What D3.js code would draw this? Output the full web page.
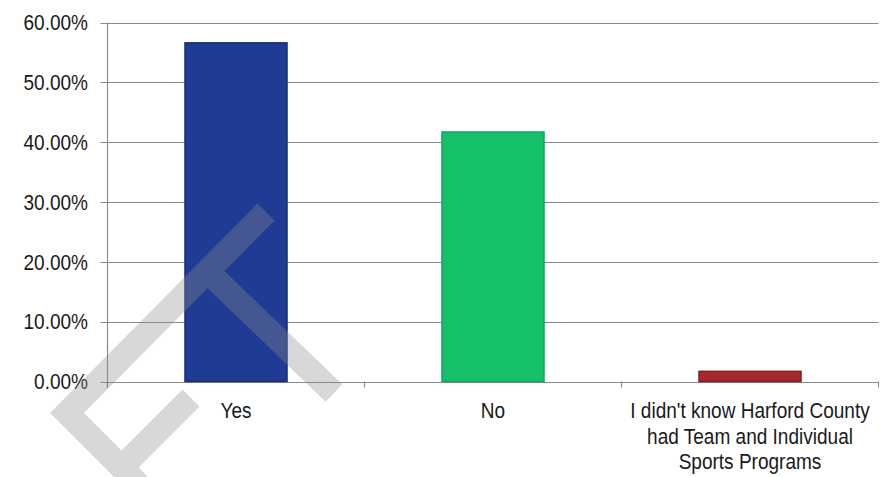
<!DOCTYPE html>
<html>
<head>
<meta charset="utf-8">
<script src="https://cdn.jsdelivr.net/npm/d3@7"></script>
<style>
  html, body { margin: 0; padding: 0; background: #ffffff; }
  svg { display: block; }
  text { font-family: "Liberation Sans", Arial, sans-serif; fill: #1a1a1a; }
</style>
</head>
<body>
<script>
// Survey answers and their share of respondents
const categories = [
  ["Yes"],
  ["No"],
  ["I didn't know Harford County", "had Team and Individual", "Sports Programs"]
];
const values = [0.566, 0.417, 0.017];
const barColors = ["#1f3b93", "#16c06b", "#a3282f"];
const barEdges = ["#172c7a", "#12a85d", "#861f25"];
const yTicks = [0, 0.1, 0.2, 0.3, 0.4, 0.5, 0.6];

const W = 890, H = 477;
const plot = { left: 107.5, right: 878.5, top: 22.5, bottom: 381.5 };
const fontSize = 21.5, squeeze = 0.885;   // condensed lettering

const svg = d3.select("body").append("svg")
  .attr("width", W).attr("height", H)
  .attr("viewBox", `0 0 ${W} ${H}`);

svg.append("rect").attr("width", W).attr("height", H).attr("fill", "#ffffff");

const y = d3.scaleLinear().domain([0, 0.6]).range([plot.bottom, plot.top]);
const x = d3.scaleBand().domain(d3.range(categories.length))
  .range([plot.left, plot.right]).paddingInner(0).paddingOuter(0);
const barFrac = 0.397;
const fmt = d3.format(".2%");

// horizontal gridlines with short ticks left of the axis
svg.append("g").selectAll("line").data(yTicks).join("line")
  .attr("x1", plot.left - 7).attr("x2", plot.right)
  .attr("y1", d => Math.round(y(d)) + 0.5).attr("y2", d => Math.round(y(d)) + 0.5)
  .attr("stroke", "#8a8a8a").attr("stroke-width", 1.2);

// y tick labels
svg.append("g").selectAll("text").data(yTicks).join("text")
  .attr("transform", d => `translate(88,${y(d)}) scale(${squeeze},1)`)
  .attr("dy", "0.36em")
  .attr("text-anchor", "end")
  .attr("font-size", fontSize)
  .text(d => fmt(d));

// vertical axis line
svg.append("line")
  .attr("x1", plot.left).attr("x2", plot.left)
  .attr("y1", plot.top).attr("y2", plot.bottom + 6)
  .attr("stroke", "#8a8a8a").attr("stroke-width", 1.2);

// category boundary ticks below the baseline
const bounds = d3.range(categories.length + 1).map(i => plot.left + i * x.step());
svg.append("g").selectAll("line").data(bounds).join("line")
  .attr("x1", d => d).attr("x2", d => d)
  .attr("y1", plot.bottom).attr("y2", plot.bottom + 6)
  .attr("stroke", "#8a8a8a").attr("stroke-width", 1.2);

// bars
svg.append("g").selectAll("rect").data(values).join("rect")
  .attr("x", (d, i) => x(i) + x.bandwidth() * (1 - barFrac) / 2)
  .attr("width", x.bandwidth() * barFrac)
  .attr("y", d => y(d))
  .attr("height", d => y(0) - y(d))
  .attr("fill", (d, i) => barColors[i])
  .attr("stroke", (d, i) => barEdges[i])
  .attr("stroke-width", 1.5);

// category labels, one tspan per line
const lbl = svg.append("g").selectAll("text").data(categories).join("text")
  .attr("text-anchor", "middle")
  .attr("font-size", fontSize)
  .attr("transform", (d, i) => `translate(${x(i) + x.bandwidth() / 2},418) scale(${squeeze},1)`);
lbl.selectAll("tspan").data(d => d).join("tspan")
  .attr("x", 0).attr("y", (d, j) => j * 25.7)
  .text(d => d);

// diagonal grey stamp across the lower left
const stamp = svg.append("g").attr("opacity", 0.34)
  .attr("fill", "none").attr("stroke", "#8f8f8f")
  .attr("stroke-width", 24).attr("stroke-linejoin", "miter");
stamp.append("path").attr("d", "M266,212 L67,413 L140,486");
stamp.append("path").attr("d", "M206,270 L334,393");
stamp.append("path").attr("d", "M191,398 L121.5,467.5");
</script>
</body>
</html>
